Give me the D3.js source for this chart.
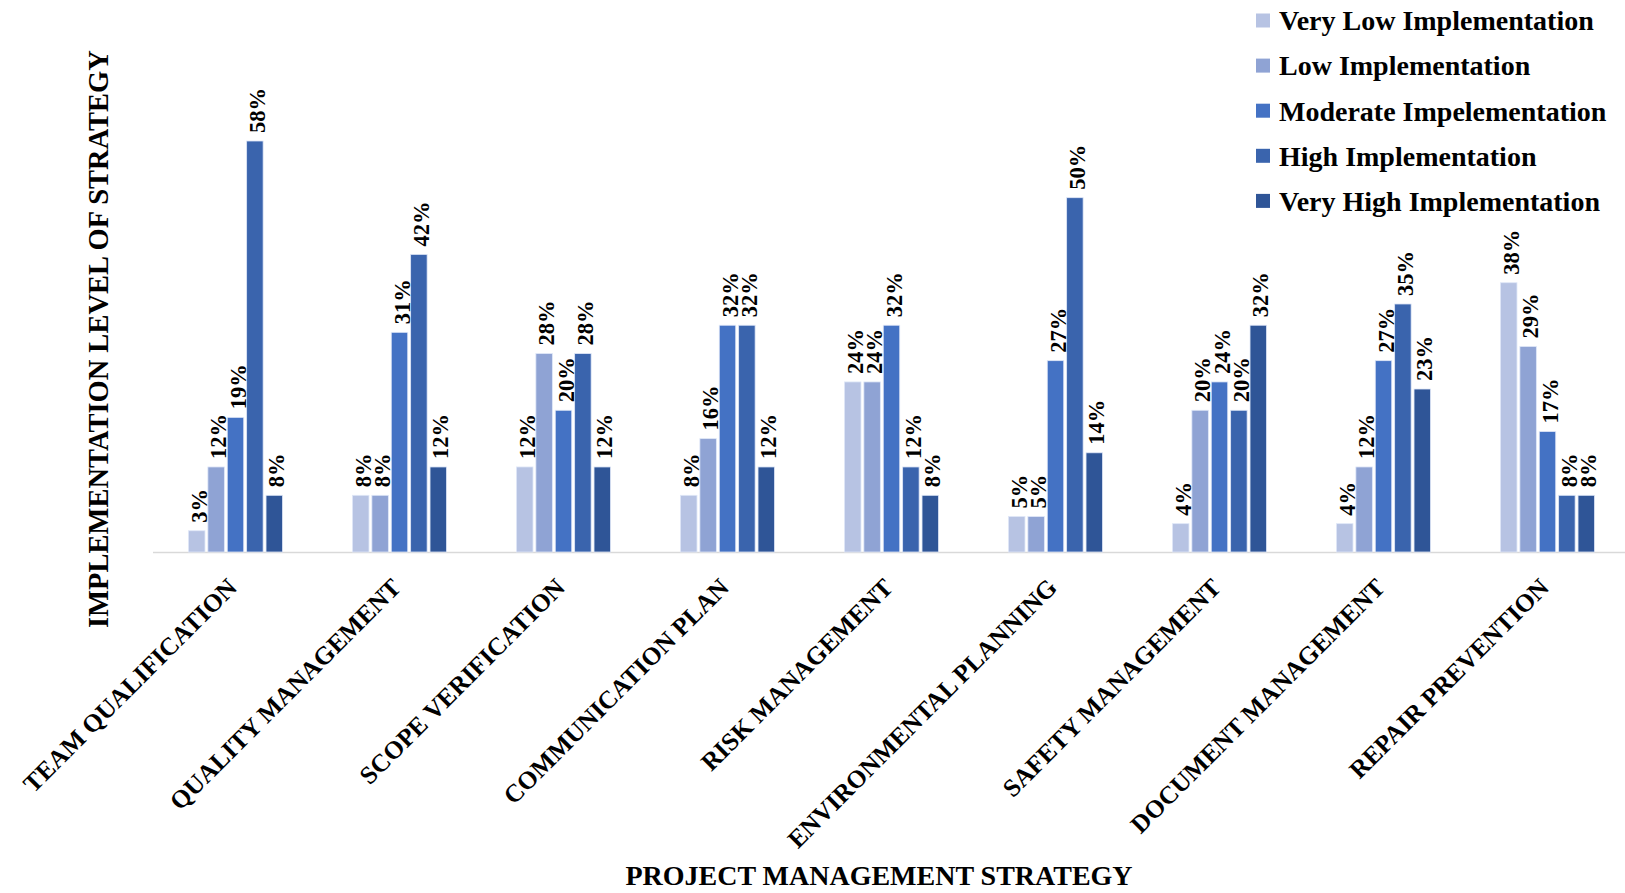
<!DOCTYPE html>
<html>
<head>
<meta charset="utf-8">
<script src="https://cdn.jsdelivr.net/npm/d3@7"></script>
<style>
  body { margin: 0; background: #fff; }
  text { font-family: "Liberation Serif", "Times New Roman", serif; font-weight: bold; fill: #000; }
</style>
</head>
<body>
<div id="chart"></div>
<script>
const categories = [
  "TEAM QUALIFICATION", "QUALITY MANAGEMENT", "SCOPE VERIFICATION",
  "COMMUNICATION PLAN", "RISK MANAGEMENT", "ENVIRONMENTAL PLANNING",
  "SAFETY MANAGEMENT", "DOCUMENT MANAGEMENT", "REPAIR PREVENTION"
];
const seriesNames = [
  "Very Low Implementation", "Low Implementation", "Moderate Impelementation",
  "High Implementation", "Very High Implementation"
];
const veryLow  = [3, 8, 12, 8, 24, 5, 4, 4, 38];
const low      = [12, 8, 28, 16, 24, 5, 20, 12, 29];
const moderate = [19, 31, 20, 32, 32, 27, 24, 27, 17];
const high     = [58, 42, 28, 32, 12, 50, 20, 35, 8];
const veryHigh = [8, 12, 12, 12, 8, 14, 32, 23, 8];
const colors = ["#b7c3e3", "#8fa3d4", "#4472c4", "#3a64ad", "#2f5597"];

const width = 1625, height = 893;
const baseY = 552;

const svg = d3.select("#chart").append("svg")
  .attr("width", width)
  .attr("height", height);

const values = [veryLow, low, moderate, high, veryHigh];
const rows = categories.map((c, i) => ({
  cat: c,
  vals: seriesNames.map((s, j) => ({ key: s, idx: j, v: values[j][i] }))
}));

const x0 = d3.scaleBand().domain(categories).range([153.5, 1629.5]);
const x1 = d3.scaleBand().domain(seriesNames).range([-47, 47]).paddingInner(0.15);
const y = d3.scaleLinear().domain([0, 58]).range([baseY, 141]);

// baseline
svg.append("line")
  .attr("x1", 153).attr("x2", width)
  .attr("y1", baseY + 0.5).attr("y2", baseY + 0.5)
  .attr("stroke", "#d9d9d9")
  .attr("stroke-width", 1.5);

const group = svg.append("g").selectAll("g")
  .data(rows)
  .enter().append("g")
  .attr("transform", d => `translate(${x0(d.cat) + x0.bandwidth() / 2},0)`);

group.selectAll("rect")
  .data(d => d.vals)
  .enter().append("rect")
  .attr("x", d => x1(d.key))
  .attr("y", d => y(d.v))
  .attr("width", x1.bandwidth())
  .attr("height", d => baseY - y(d.v))
  .attr("fill", d => colors[d.idx])
  .attr("stroke", "#dfe7f7")
  .attr("stroke-width", 0.8);

group.selectAll("text.val")
  .data(d => d.vals)
  .enter().append("text")
  .attr("class", "val")
  .attr("transform", d => `translate(${x1(d.key) + x1.bandwidth() / 2},${y(d.v) - 8}) rotate(-90)`)
  .attr("dy", "0.45em")
  .style("font-size", "22.5px")
  .text(d => d.v + "%");

// category labels
svg.append("g").selectAll("text")
  .data(categories)
  .enter().append("text")
  .attr("text-anchor", "end")
  .attr("transform", d => `translate(${x0(d) + x0.bandwidth() / 2 + 3},589) rotate(-45)`)
  .style("font-size", "25.3px")
  .text(d => d);

// axis titles
svg.append("text")
  .attr("text-anchor", "middle")
  .attr("transform", "translate(108,339) rotate(-90)")
  .style("font-size", "28.5px")
  .text("IMPLEMENTATION LEVEL OF STRATEGY");

svg.append("text")
  .attr("text-anchor", "middle")
  .attr("x", 879)
  .attr("y", 885)
  .style("font-size", "28px")
  .text("PROJECT MANAGEMENT STRATEGY");

// legend
const legend = svg.append("g").selectAll("g")
  .data(seriesNames)
  .enter().append("g")
  .attr("transform", (d, i) => `translate(1256,${20.5 + i * 45.1})`);

legend.append("rect")
  .attr("x", 0).attr("y", -7)
  .attr("width", 14).attr("height", 14)
  .attr("fill", (d, i) => colors[i]);

legend.append("text")
  .attr("x", 23)
  .attr("dy", "0.35em")
  .style("font-size", "28px")
  .text(d => d);
</script>
</body>
</html>
